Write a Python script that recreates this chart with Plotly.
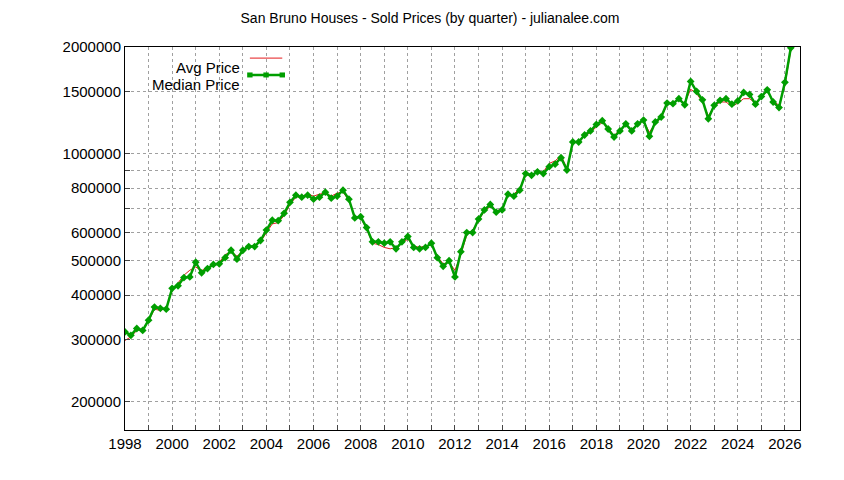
import numpy as np
import plotly.graph_objects as go

# quarterly sold prices, San Bruno houses
quarters = [1998 + i * 0.25 for i in range(114)]

median_price = [
    315000, 308000, 322000, 318000,
    340000, 370000, 367000, 365000,
    418000, 425000, 448000, 450000,
    495000, 462000, 475000, 488000,
    490000, 510000, 535000, 505000,
    535000, 548000, 548000, 570000,
    610000, 650000, 648000, 680000,
    730000, 765000, 755000, 765000,
    745000, 755000, 780000, 750000,
    760000, 790000, 745000, 660000,
    665000, 620000, 565000, 565000,
    560000, 565000, 540000, 565000,
    585000, 545000, 540000, 545000,
    560000, 510000, 482000, 500000,
    450000, 530000, 600000, 600000,
    655000, 695000, 720000, 685000,
    695000, 770000, 760000, 790000,
    880000, 870000, 890000, 880000,
    920000, 935000, 975000, 900000,
    1080000, 1080000, 1130000, 1160000,
    1210000, 1240000, 1175000, 1115000,
    1160000, 1215000, 1160000, 1215000,
    1245000, 1120000, 1230000, 1270000,
    1390000, 1385000, 1430000, 1375000,
    1600000, 1500000, 1420000, 1255000,
    1370000, 1415000, 1430000, 1380000,
    1410000, 1490000, 1470000, 1380000,
    1450000, 1515000, 1400000, 1350000,
    1590000, 1990000,
]

avg_price = [
    298000, 305000, 318000, 320000,
    338000, 365000, 362000, 368000,
    412000, 432000, 455000, 470000,
    480000, 468000, 480000, 485000,
    495000, 520000, 530000, 515000,
    530000, 545000, 552000, 565000,
    600000, 635000, 640000, 670000,
    720000, 755000, 760000, 770000,
    760000, 770000, 775000, 760000,
    775000, 780000, 740000, 665000,
    660000, 615000, 560000, 555000,
    545000, 540000, 545000, 560000,
    575000, 550000, 545000, 550000,
    555000, 515000, 490000, 495000,
    470000, 520000, 590000, 610000,
    650000, 690000, 710000, 690000,
    700000, 760000, 770000, 800000,
    870000, 875000, 885000, 890000,
    940000, 955000, 990000, 910000,
    1070000, 1090000, 1120000, 1150000,
    1190000, 1225000, 1185000, 1125000,
    1170000, 1200000, 1175000, 1210000,
    1240000, 1150000, 1220000, 1260000,
    1380000, 1400000, 1420000, 1390000,
    1520000, 1480000, 1400000, 1280000,
    1360000, 1400000, 1400000, 1360000,
    1390000, 1430000, 1430000, 1390000,
    1440000, 1500000, 1410000, 1370000,
    1560000, 1960000,
]

x_ticks = list(range(1998, 2027))
x_labels = [str(y) if y % 2 == 0 else "" for y in x_ticks]
y_ticks = [200000, 300000, 400000, 500000, 600000, 700000, 800000, 900000,
           1000000, 1500000, 2000000]
y_labels = ["200000", "300000", "400000", "500000", "600000", "", "800000", "",
            "1000000", "1500000", "2000000"]

fig = go.Figure()
fig.add_trace(go.Scatter(x=quarters, y=avg_price, mode="lines", name="Avg Price",
                         line=dict(color="#e41a1c", width=1)))
fig.add_trace(go.Scatter(x=quarters, y=median_price, mode="lines+markers",
                         name="Median Price",
                         line=dict(color="#009e00", width=2.5),
                         marker=dict(symbol="diamond", size=6, color="#009e00")))

# gnuplot style legend: text right aligned, sample on the right
fig.add_annotation(x=0.174, y=0.975, xref="paper", yref="paper", text="Avg Price",
                   showarrow=False, xanchor="right", font=dict(size=15))
fig.add_annotation(x=0.174, y=0.93, xref="paper", yref="paper", text="Median Price",
                   showarrow=False, xanchor="right", font=dict(size=15))
fig.add_shape(type="line", xref="paper", yref="paper", x0=0.185, x1=0.233,
              y0=0.971, y1=0.971, line=dict(color="#e41a1c", width=1))
fig.add_shape(type="line", xref="paper", yref="paper", x0=0.185, x1=0.233,
              y0=0.927, y1=0.927, line=dict(color="#009e00", width=2.5))
for px_ in (0.185, 0.209, 0.233):
    fig.add_shape(type="line", xref="paper", yref="paper", x0=px_ - 0.004,
                  x1=px_ + 0.004, y0=0.927, y1=0.927,
                  line=dict(color="#009e00", width=5))

fig.update_layout(
    width=844, height=480,
    margin=dict(l=117, r=52, t=39, b=58),
    paper_bgcolor="white", plot_bgcolor="white",
    font=dict(family="Liberation Sans, Arial", size=15, color="black"),
    title=dict(text="San Bruno Houses - Sold Prices (by quarter) - julianalee.com",
               x=0.5, xanchor="center", y=0.99, yanchor="top", font=dict(size=14)),
    showlegend=False,
)
fig.update_xaxes(range=[1998, 2026.64], tickvals=x_ticks, ticktext=x_labels,
                 showgrid=True, gridcolor="#a0a0a0", griddash="dot",
                 showline=True, linecolor="black", mirror=True,
                 ticks="inside", ticklen=5, zeroline=False)
fig.update_yaxes(type="log", range=[np.log10(166700), np.log10(2000000)],
                 tickvals=y_ticks, ticktext=y_labels,
                 showgrid=True, gridcolor="#a0a0a0", griddash="dot",
                 showline=True, linecolor="black", mirror=True,
                 ticks="inside", ticklen=5, zeroline=False)

fig.write_html("out.html")
